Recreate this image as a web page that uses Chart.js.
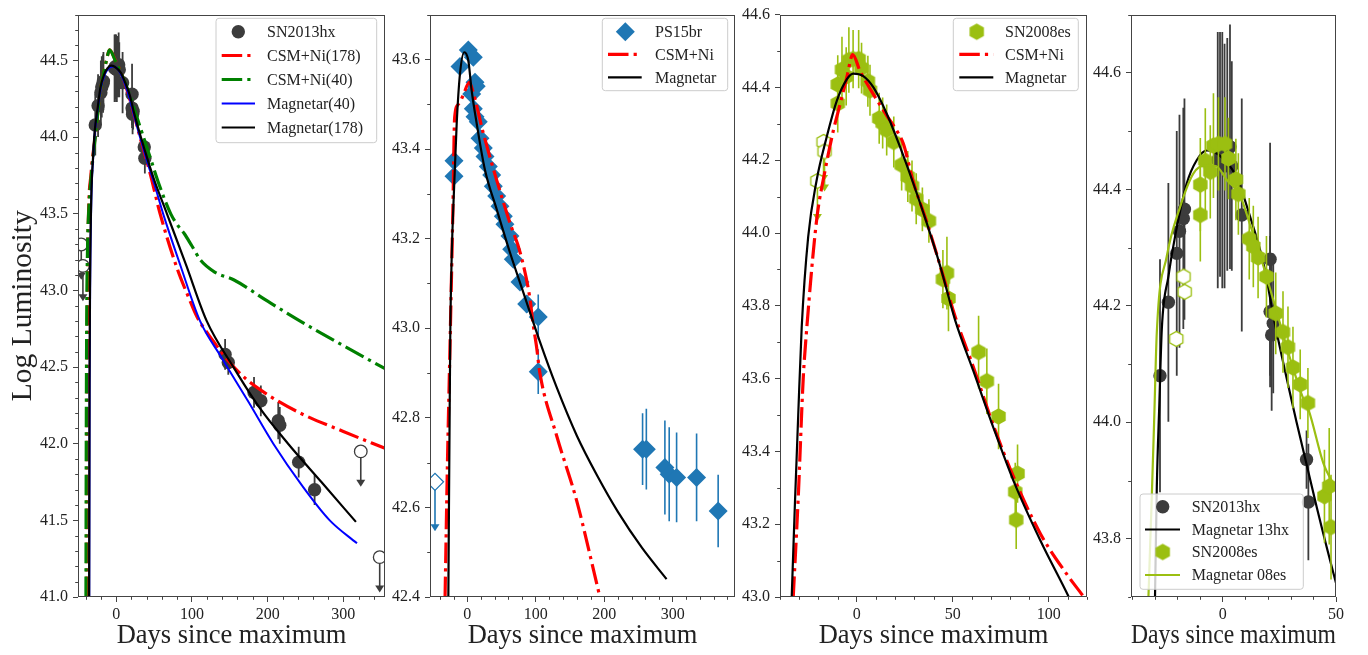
<!DOCTYPE html>
<html>
<head>
<meta charset="utf-8">
<title>Light curves: SN2013hx, PS15br, SN2008es</title>
<script src="https://cdn.jsdelivr.net/npm/chart.js@4.4.1/dist/chart.umd.min.js"></script>
<style>
  html, body { margin: 0; padding: 0; background: #fff; }
  #fig { position: relative; width: 1368px; height: 655px; overflow: hidden; }
  #fig canvas { position: absolute; top: 0; }
</style>
</head>
<body>
<div id="fig">
  <canvas id="p1" width="400" height="655" style="left:0px"></canvas>
  <canvas id="p2" width="364" height="655" style="left:386px"></canvas>
  <canvas id="p3" width="362" height="655" style="left:738px"></canvas>
  <canvas id="p4" width="280" height="655" style="left:1088px"></canvas>
</div>
<script>
const SERIF = '"Liberation Serif", "Times New Roman", serif';
const INK = '#222222';
const SPINE = '#444444';
const HX = '#3c3c3c';
const PS = '#1f77b4';
const ES = '#9bbf11';
const DASHDOT = [20.5, 5.1, 3.2, 5.1];

// ---- SN2013hx (panels 1 and 4) ----
const hxDays = [-27.7, -24.0, -20.3, -19.1, -17.4, -16.9, -2.2, -1.2, -0.2, 0.8, 2.0, 3.2, 4.0, 8.4,
                20.9, 20.9, 21.6, 22.3, 37.0, 37.8, 143.8, 148.0, 182.0, 191.0, 214.0, 216.0, 241.0, 262.0];
const hxLum = [44.08, 44.206, 44.29, 44.328, 44.35, 44.366, 44.45, 44.46, 44.45, 44.44, 44.46, 44.473, 44.44, 44.356,
               44.28, 44.19, 44.15, 44.17, 43.936, 43.863, 42.583, 42.53, 42.335, 42.28, 42.15, 42.12, 41.88, 41.70];
const hxErr = [0.2, 0.205, 0.21, 0.2, 0.19, 0.19, 0.22, 0.21, 0.22, 0.21, 0.2, 0.21, 0.18, 0.2,
               0.2, 0.13, 0.13, 0.12, 0.05, 0.1, 0.1, 0.08, 0.1, 0.1, 0.12, 0.12, 0.1, 0.1];
const hxLimDays = [-46.2, -44.0, 323.0, 348.0];
const hxLimLum = [43.30, 43.16, 41.95, 41.26];

// panel 1 models
const csm178Days = [-38.8, -38.4, -37.8, -36.6, -33.5, -28.0, -21.0, -13.0, -8.8, -1.0, 8.0, 16.0, 25.0, 32.0,
                    45.0, 58.0, 80.0, 96.0, 106.5, 128.0, 150.0, 172.0, 200.0, 243.0, 300.0, 355.0];
const csm178Lum = [41.0, 42.3, 43.1, 43.5, 43.75, 44.0, 44.3, 44.5, 44.57, 44.5, 44.4, 44.28, 44.12, 43.99,
                   43.76, 43.5, 43.15, 42.95, 42.83, 42.67, 42.53, 42.42, 42.32, 42.2, 42.08, 41.97];
const csm40Days = [-40.0, -39.6, -39.0, -37.8, -36.5, -32.0, -27.7, -21.0, -13.0, -8.8, -1.3, 8.0, 16.0, 26.0,
                   36.0, 46.0, 56.0, 72.0, 82.0, 90.0, 100.0, 111.0, 130.0, 155.0, 200.0, 243.0, 300.0, 355.0];
const csm40Lum = [41.0, 42.0, 42.8, 43.3, 43.5, 43.8, 44.0, 44.3, 44.5, 44.57, 44.5, 44.4, 44.3, 44.15,
                  44.0, 43.85, 43.7, 43.5, 43.42, 43.37, 43.29, 43.2, 43.12, 43.07, 42.93, 42.8, 42.64, 42.49];
const mag40Days = [-35.6, -35.1, -34.3, -32.8, -30.3, -28.4, -24.0, -20.5, -15.0, -10.0, -5.0, 0.0, 6.2, 12.0,
                   17.9, 23.0, 32.6, 41.5, 50.0, 62.0, 85.0, 110.8, 139.4, 175.0, 207.5, 245.0, 282.0, 318.0];
const mag40Lum = [41.0, 42.4, 43.1, 43.6, 43.88, 44.03, 44.2, 44.32, 44.41, 44.45, 44.462, 44.455, 44.41, 44.34,
                  44.25, 44.15, 43.98, 43.83, 43.7, 43.5, 43.16, 42.8, 42.56, 42.27, 42.0, 41.73, 41.5, 41.35];
const mag178Days = [-35.8, -35.3, -34.5, -33.0, -30.5, -28.6, -24.3, -21.0, -15.9, -11.5, -7.0, -2.0, 6.2, 12.0,
                    17.9, 23.0, 32.6, 41.5, 50.0, 67.0, 92.0, 119.6, 154.8, 190.0, 227.0, 271.0, 316.6];
const mag178Lum = [41.0, 42.4, 43.1, 43.6, 43.88, 44.03, 44.2, 44.32, 44.41, 44.45, 44.467, 44.46, 44.42, 44.354,
                   44.274, 44.17, 44.0, 43.854, 43.724, 43.5, 43.17, 42.8, 42.5, 42.23, 42.0, 41.75, 41.49];

// ---- PS15br (panel 2) ----
const psDays = [-19.4, -19.4, -10.7, 1.5, 8.8, 6.4, 11.2, 13.0, 8.8, 11.2, 16.0, 18.5, 23.4, 25.8, 30.7, 35.6,
                38.0, 42.9, 47.7, 52.6, 55.0, 62.3, 64.8, 67.2, 77.0, 86.7, 103.6, 103.6,
                256.0, 261.5, 288.6, 294.9, 305.7, 334.9, 366.4];
const psLum = [43.374, 43.339, 43.584, 43.621, 43.605, 43.523, 43.549, 43.54, 43.49, 43.472, 43.461, 43.424, 43.402,
               43.383, 43.361, 43.342, 43.317, 43.295, 43.272, 43.25, 43.232, 43.206, 43.176, 43.154, 43.103, 43.054,
               43.025, 42.903, 42.73, 42.73, 42.689, 42.674, 42.667, 42.667, 42.592];
const psErr = [0.01, 0.01, 0.01, 0.01, 0.01, 0.01, 0.01, 0.01, 0.01, 0.01, 0.01, 0.01, 0.01, 0.01, 0.01, 0.01,
               0.01, 0.01, 0.01, 0.01, 0.01, 0.01, 0.01, 0.01, 0.015, 0.02, 0.05, 0.05,
               0.08, 0.09, 0.105, 0.105, 0.1, 0.098, 0.081];
const psLimDays = [-47.2];
const psLimLum = [42.657];
const psCsmDays = [-32.5, -29.0, -25.0, -21.0, -18.5, -13.0, -6.0, 2.9, 7.9, 23.4, 43.0, 62.3, 77.0, 91.5,
                   96.0, 101.0, 106.0, 130.5, 159.7, 193.7, 205.0];
const psCsmLum = [42.4, 42.7, 42.98, 43.27, 43.47, 43.5, 43.52, 43.549, 43.53, 43.435, 43.33, 43.235, 43.17, 43.066,
                  43.01, 42.96, 42.9, 42.76, 42.615, 42.4, 42.33];
const psMagDays = [-27.7, -25.0, -22.8, -19.4, -15.5, -10.7, -4.4, 1.5, 6.4, 13.7, 25.8, 43.0, 62.3, 81.8,
                   106.0, 130.0, 160.0, 190.0, 220.0, 255.0, 291.0];
const psMagLum = [42.4, 42.97, 43.16, 43.31, 43.457, 43.568, 43.616, 43.597, 43.53, 43.457, 43.353, 43.265, 43.169, 43.08,
                  42.97, 42.87, 42.76, 42.67, 42.59, 42.51, 42.44];

// ---- SN2008es (panels 3 and 4) ----
const esDays = [-9.9, -9.9, -7.7, -5.5, -4.1, -1.9, 1.0, 2.5, 5.8, 6.9, 11.7, 13.5, 15.6, 19.3, 23.4, 26.6, 28.8,
                31.0, 34.2, 37.6, 44.9, 47.0, 47.8, 63.5, 67.8, 73.9, 82.6, 83.1, 83.8];
const esLum = [44.356, 44.408, 44.449, 44.43, 44.475, 44.478, 44.478, 44.453, 44.417, 44.392, 44.315, 44.302, 44.283,
               44.25, 44.187, 44.155, 44.129, 44.094, 44.065, 44.033, 43.873, 43.89, 43.82, 43.673, 43.593, 43.496,
               43.289, 43.212, 43.339];
const esErr = [0.08, 0.08, 0.09, 0.08, 0.09, 0.08, 0.08, 0.07, 0.07, 0.07, 0.07, 0.07, 0.07, 0.07, 0.07, 0.07, 0.07,
               0.07, 0.06, 0.06, 0.08, 0.1, 0.09, 0.1, 0.09, 0.09, 0.08, 0.08, 0.08];
const esLimDays = [-20.5, -17.3, -16.8];
const esLimLum = [44.143, 44.25, 44.224];
const esCsmDays = [-33.1, -30.5, -27.9, -26.1, -20.9, -16.5, -12.2, -8.7, -5.2, -2.1, 1.7, 8.7, 15.7, 20.9, 24.3,
                   29.5, 36.5, 43.5, 51.3, 60.9, 71.3, 81.7, 95.7, 110.5, 118.3, 122.0];
const esCsmLum = [43.0, 43.273, 43.6, 43.735, 44.036, 44.172, 44.281, 44.354, 44.427, 44.49, 44.445, 44.381, 44.322,
                  44.281, 44.245, 44.14, 44.03, 43.91, 43.77, 43.63, 43.47, 43.33, 43.174, 43.055, 43.0, 42.97];
const esMagDays = [-33.9, -32.2, -30.5, -28.7, -25.3, -20.9, -15.7, -10.4, -5.2, -1.8, 3.4, 8.7, 15.7, 22.6,
                   29.5, 36.5, 43.5, 51.3, 60.9, 71.3, 81.7, 95.7, 110.5, 114.0];
const esMagLum = [43.0, 43.26, 43.5, 43.74, 43.99, 44.145, 44.263, 44.363, 44.422, 44.438, 44.431, 44.40, 44.327,
                  44.236, 44.136, 44.027, 43.909, 43.76, 43.619, 43.464, 43.319, 43.155, 43.0, 42.96];

// ---- panel 4 models ----
const mag13Days = [-30.4, -29.9, -29.1, -28.0, -26.9, -24.0, -21.0, -15.9, -11.5, -7.0, -2.0, 6.2, 12.0, 17.9,
                   23.0, 32.6, 41.5, 50.0, 51.0];
const mag13Lum = [43.6, 43.7, 43.89, 44.03, 44.16, 44.25, 44.32, 44.41, 44.45, 44.467, 44.46, 44.42, 44.354, 44.274,
                  44.17, 44.0, 43.854, 43.724, 43.71];
const mag08Days = [-33.4, -32.8, -31.5, -30.3, -29.1, -24.7, -18.8, -13.0, -7.8, -3.0, 1.8, 7.6, 12.0, 17.8,
                   23.8, 29.7, 35.6, 38.0, 44.4, 49.5, 51.0];
const mag08Lum = [43.6, 43.7, 43.85, 44.0, 44.155, 44.285, 44.37, 44.427, 44.441, 44.44, 44.416, 44.39, 44.34, 44.27,
                  44.19, 44.11, 44.04, 44.02, 43.93, 43.89, 43.88];

// ---- ticks ----
const p1XTicks = [0, 100, 200, 300];
const p1YTicks = [41.0, 41.5, 42.0, 42.5, 43.0, 43.5, 44.0, 44.5];
const p2XTicks = [0, 100, 200, 300];
const p2YTicks = [42.4, 42.6, 42.8, 43.0, 43.2, 43.4, 43.6];
const p3XTicks = [0, 50, 100];
const p3YTicks = [43.0, 43.2, 43.4, 43.6, 43.8, 44.0, 44.2, 44.4, 44.6];
const p4XTicks = [0, 50];
const p4YTicks = [43.8, 44.0, 44.2, 44.4, 44.6];

Chart.defaults.font.family = SERIF;
Chart.defaults.color = INK;

function pts(xs, ys) { return xs.map((x, i) => ({ x: x, y: ys[i] })); }

function hexagon(r, fill, edge, lw) {
  const c = document.createElement('canvas');
  const s = Math.ceil(2 * r + 2 * lw + 2);
  c.width = c.height = s;
  const g = c.getContext('2d');
  g.beginPath();
  for (let k = 0; k < 6; k++) {
    const a = -Math.PI / 2 + k * Math.PI / 3;
    const px = s / 2 + r * Math.cos(a), py = s / 2 + r * Math.sin(a);
    if (k) g.lineTo(px, py); else g.moveTo(px, py);
  }
  g.closePath();
  g.fillStyle = fill;
  g.fill();
  if (edge) { g.strokeStyle = edge; g.lineWidth = lw; g.stroke(); }
  return c;
}
const hexFull = hexagon(8.3, ES, null, 0);
const hexOpen = hexagon(7.6, '#ffffff', ES, 1.3);

function points(xs, ys, errs, o) {
  return {
    data: pts(xs, ys), errs: errs, barColor: o.color, barWidth: o.barWidth || 1.6, arrowLen: o.arrowLen || 0,
    showLine: false, clip: 0,
    pointStyle: o.style, pointRadius: o.radius, rotation: 0,
    backgroundColor: o.fill || o.color, borderColor: o.color, borderWidth: o.edge || 0
  };
}
function curve(xs, ys, color, width, dash) {
  return {
    data: pts(xs, ys), showLine: true, clip: 0, pointRadius: 0, fill: false,
    borderColor: color, borderWidth: width, borderDash: dash || [],
    cubicInterpolationMode: 'monotone'
  };
}

// page-coordinate layout of legends and minor tick steps for each panel
const panelCfg = {
  p1: { left: 0, xMinor: 20, yMinor: 0.1, xMajor: p1XTicks, yMajor: p1YTicks,
        legend: { x: 216, y: 18.3, w: 160.7, h: 124.4, mx: 238.3, lx: [221.7, 255], tx: 267,
                  rows: [31.7, 55.5, 79.5, 103.5, 127.5],
                  items: [
                    { label: 'SN2013hx', style: 'circle', color: HX, r: 6.7 },
                    { label: 'CSM+Ni(178)', color: '#ff0000', width: 3.2, dash: DASHDOT },
                    { label: 'CSM+Ni(40)', color: '#008000', width: 3.2, dash: DASHDOT },
                    { label: 'Magnetar(40)', color: '#0000ff', width: 2 },
                    { label: 'Magnetar(178)', color: '#000000', width: 2.2 }
                  ] } },
  p2: { left: 386, xMinor: 20, yMinor: 0.1, xMajor: p2XTicks, yMajor: p2YTicks,
        legend: { x: 602.3, y: 18.3, w: 125.4, h: 72.4, mx: 625.3, lx: [608, 641.7], tx: 655,
                  rows: [31.7, 54.3, 77.3],
                  items: [
                    { label: 'PS15br', style: 'rectRot', color: PS, r: 9.5 },
                    { label: 'CSM+Ni', color: '#ff0000', width: 3.2, dash: DASHDOT },
                    { label: 'Magnetar', color: '#000000', width: 2.2 }
                  ] } },
  p3: { left: 738, xMinor: 10, yMinor: 0.1, xMajor: p3XTicks, yMajor: p3YTicks,
        legend: { x: 953.3, y: 18.3, w: 125, h: 72.4, mx: 976.7, lx: [959.3, 993.3], tx: 1005,
                  rows: [31.7, 54.3, 77.3],
                  items: [
                    { label: 'SN2008es', style: hexFull, color: ES },
                    { label: 'CSM+Ni', color: '#ff0000', width: 3.2, dash: DASHDOT },
                    { label: 'Magnetar', color: '#000000', width: 2.2 }
                  ] } },
  p4: { left: 1088, xMinor: 10, yMinor: 0.1, xMajor: p4XTicks, yMajor: p4YTicks,
        legend: { x: 1140, y: 494, w: 163.3, h: 95.3, mx: 1162.7, lx: [1145, 1180], tx: 1191.7,
                  rows: [506.7, 529.5, 552, 575],
                  items: [
                    { label: 'SN2013hx', style: 'circle', color: HX, r: 6.7 },
                    { label: 'Magnetar 13hx', color: '#000000', width: 2.2 },
                    { label: 'SN2008es', style: hexFull, color: ES },
                    { label: 'Magnetar 08es', color: ES, width: 2.2 }
                  ] } }
};

function drawMarker(ctx, it, x, y) {
  if (typeof it.style !== 'string') {
    ctx.drawImage(it.style, x - it.style.width / 2, y - it.style.height / 2);
    return;
  }
  ctx.fillStyle = it.color;
  ctx.beginPath();
  if (it.style === 'circle') {
    ctx.arc(x, y, it.r, 0, Math.PI * 2);
  } else {
    ctx.moveTo(x - it.r, y); ctx.lineTo(x, y - it.r); ctx.lineTo(x + it.r, y); ctx.lineTo(x, y + it.r);
    ctx.closePath();
  }
  ctx.fill();
}

const deco = {
  id: 'deco',
  beforeDatasetDraw(chart, args) {
    const ds = chart.data.datasets[args.index];
    if (!ds.errs && !ds.arrowLen) return;
    const { ctx, chartArea: a, scales: { x, y } } = chart;
    ctx.save();
    ctx.beginPath();
    ctx.rect(a.left, a.top, a.width, a.height);
    ctx.clip();
    ctx.strokeStyle = ds.barColor;
    ctx.fillStyle = ds.barColor;
    ctx.lineWidth = ds.barWidth;
    ds.data.forEach((p, i) => {
      const px = x.getPixelForValue(p.x);
      if (ds.errs) {
        ctx.beginPath();
        ctx.moveTo(px, y.getPixelForValue(p.y - ds.errs[i]));
        ctx.lineTo(px, y.getPixelForValue(p.y + ds.errs[i]));
        ctx.stroke();
      }
      if (ds.arrowLen) {
        const y0 = y.getPixelForValue(p.y), y1 = y.getPixelForValue(p.y - ds.arrowLen);
        ctx.beginPath();
        ctx.moveTo(px, y0);
        ctx.lineTo(px, y1 - 6);
        ctx.stroke();
        ctx.beginPath();
        ctx.moveTo(px - 4.5, y1 - 7);
        ctx.lineTo(px + 4.5, y1 - 7);
        ctx.lineTo(px, y1);
        ctx.closePath();
        ctx.fill();
      }
    });
    ctx.restore();
  },
  afterDatasetsDraw(chart) {
    const cfg = panelCfg[chart.canvas.id];
    const { ctx, chartArea: a, scales: { x, y } } = chart;
    ctx.save();
    ctx.strokeStyle = SPINE;
    ctx.lineWidth = 1;
    ctx.beginPath();
    const isMajor = (list, v) => list.some(m => Math.abs(m - v) < 1e-6);
    for (let k = Math.ceil(x.min / cfg.xMinor - 1e-9); k * cfg.xMinor <= x.max + 1e-9; k++) {
      const v = k * cfg.xMinor;
      if (isMajor(cfg.xMajor, v)) continue;
      const px = Math.round(x.getPixelForValue(v)) + 0.5;
      ctx.moveTo(px, a.bottom); ctx.lineTo(px, a.bottom + 2.8);
    }
    for (let k = Math.ceil(y.min / cfg.yMinor - 1e-9); k * cfg.yMinor <= y.max + 1e-9; k++) {
      const v = k * cfg.yMinor;
      if (isMajor(cfg.yMajor, v)) continue;
      const py = Math.round(y.getPixelForValue(v)) + 0.5;
      ctx.moveTo(a.left, py); ctx.lineTo(a.left - 2.8, py);
    }
    ctx.stroke();
    ctx.strokeRect(Math.round(a.left) + 0.5, Math.round(a.top) + 0.5,
                   Math.round(a.width) - 1, Math.round(a.height) - 1);
    ctx.restore();
  },
  afterDraw(chart) {
    const cfg = panelCfg[chart.canvas.id];
    const lg = cfg.legend;
    const ctx = chart.ctx;
    const ox = cfg.left;
    ctx.save();
    ctx.beginPath();
    ctx.roundRect(lg.x - ox, lg.y, lg.w, lg.h, 3);
    ctx.fillStyle = 'rgba(255,255,255,0.8)';
    ctx.fill();
    ctx.strokeStyle = '#cccccc';
    ctx.lineWidth = 1;
    ctx.stroke();
    ctx.font = '16px ' + SERIF;
    ctx.textBaseline = 'middle';
    ctx.textAlign = 'left';
    lg.items.forEach((it, i) => {
      const ry = lg.rows[i];
      if (it.width) {
        ctx.beginPath();
        ctx.setLineDash(it.dash || []);
        ctx.lineWidth = it.width;
        ctx.strokeStyle = it.color;
        ctx.moveTo(lg.lx[0] - ox, ry);
        ctx.lineTo(lg.lx[1] - ox, ry);
        ctx.stroke();
        ctx.setLineDash([]);
      } else {
        drawMarker(ctx, it, lg.mx - ox, ry);
      }
      ctx.fillStyle = INK;
      ctx.fillText(it.label, lg.tx - ox, ry + 1);
    });
    ctx.restore();
  }
};

function makePanel(id, o) {
  return new Chart(document.getElementById(id), {
    type: 'scatter',
    data: { datasets: o.datasets.map((d, i) => Object.assign(d, { order: -i })) },
    options: {
      responsive: false,
      animation: false,
      events: [],
      layout: { autoPadding: false, padding: { top: 10, right: o.padR, bottom: 0, left: 0 } },
      scales: {
        x: {
          type: 'linear', min: o.xMin, max: o.xMax,
          afterBuildTicks: s => { s.ticks = o.xTicks.map(v => ({ value: v })); },
          afterFit: s => { s.height = 58; },
          border: { display: false },
          grid: { drawOnChartArea: false, drawTicks: true, tickLength: 5, tickColor: SPINE, tickWidth: 1 },
          ticks: { autoSkip: false, maxRotation: 0, padding: 3, color: INK,
                   font: { size: 16, family: SERIF }, callback: v => String(v) },
          title: { display: true, text: 'Days since maximum', color: INK,
                   font: { size: 26.5, family: SERIF }, padding: { top: 0, bottom: 3 } }
        },
        y: {
          type: 'linear', min: o.yMin, max: o.yMax,
          afterBuildTicks: s => { s.ticks = o.yTicks.map(v => ({ value: v })); },
          afterFit: s => { s.width = o.yW; },
          border: { display: false },
          grid: { drawOnChartArea: false, drawTicks: true, tickLength: 5, tickColor: SPINE, tickWidth: 1 },
          ticks: { autoSkip: false, padding: 5, color: INK,
                   font: { size: 16, family: SERIF }, callback: v => v.toFixed(1) },
          title: { display: !!o.yTitle, text: o.yTitle || '', color: INK,
                   font: { size: 29.5, family: SERIF }, padding: { top: 6, bottom: 0 } }
        }
      },
      plugins: { legend: { display: false }, tooltip: { enabled: false } }
    },
    plugins: [deco]
  });
}

makePanel('p1', {
  xMin: -50.5, xMax: 355, yMin: 41.0, yMax: 44.8, xTicks: p1XTicks, yTicks: p1YTicks,
  yW: 78, padR: 15, yTitle: 'Log Luminosity',
  datasets: [
    points(hxLimDays, hxLimLum, null, { color: HX, style: 'circle', radius: 6.3, fill: '#ffffff', edge: 1.3, arrowLen: 0.23, barWidth: 1.6 }),
    points(hxDays, hxLum, hxErr, { color: HX, style: 'circle', radius: 6.7, barWidth: 1.8 }),
    curve(csm178Days, csm178Lum, '#ff0000', 3.2, DASHDOT),
    curve(csm40Days, csm40Lum, '#008000', 3.2, DASHDOT),
    curve(mag40Days, mag40Lum, '#0000ff', 2),
    curve(mag178Days, mag178Lum, '#000000', 2.2)
  ]
});

makePanel('p2', {
  xMin: -54.5, xMax: 391, yMin: 42.4, yMax: 43.7, xTicks: p2XTicks, yTicks: p2YTicks,
  yW: 44, padR: 15,
  datasets: [
    points(psLimDays, psLimLum, null, { color: PS, style: 'rectRot', radius: 8.5, fill: '#ffffff', edge: 1.3, arrowLen: 0.11, barWidth: 1.6 }),
    points(psDays, psLum, psErr, { color: PS, style: 'rectRot', radius: 9.5, barWidth: 1.6 }),
    curve(psCsmDays, psCsmLum, '#ff0000', 3.2, DASHDOT),
    curve(psMagDays, psMagLum, '#000000', 2.2)
  ]
});

makePanel('p3', {
  xMin: -40, xMax: 120, yMin: 43.0, yMax: 44.6, xTicks: p3XTicks, yTicks: p3YTicks,
  yW: 42, padR: 13,
  datasets: [
    points(esLimDays, esLimLum, null, { color: ES, style: hexOpen, radius: 8, arrowLen: 0.11, barWidth: 1.6 }),
    points(esDays, esLum, esErr, { color: ES, style: hexFull, radius: 8, barWidth: 1.6 }),
    curve(esCsmDays, esCsmLum, '#ff0000', 3.2, DASHDOT),
    curve(esMagDays, esMagLum, '#000000', 2.2)
  ]
});

makePanel('p4', {
  xMin: -40.5, xMax: 50, yMin: 43.7, yMax: 44.7, xTicks: p4XTicks, yTicks: p4YTicks,
  yW: 43, padR: 32,
  datasets: [
    points(hxDays, hxLum, hxErr, { color: HX, style: 'circle', radius: 6.7, barWidth: 1.8 }),
    curve(mag13Days, mag13Lum, '#000000', 2.2),
    points(esLimDays, esLimLum, null, { color: ES, style: hexOpen, radius: 8 }),
    points(esDays, esLum, esErr, { color: ES, style: hexFull, radius: 8, barWidth: 1.6 }),
    curve(mag08Days, mag08Lum, ES, 2.2)
  ]
});
</script>
</body>
</html>
